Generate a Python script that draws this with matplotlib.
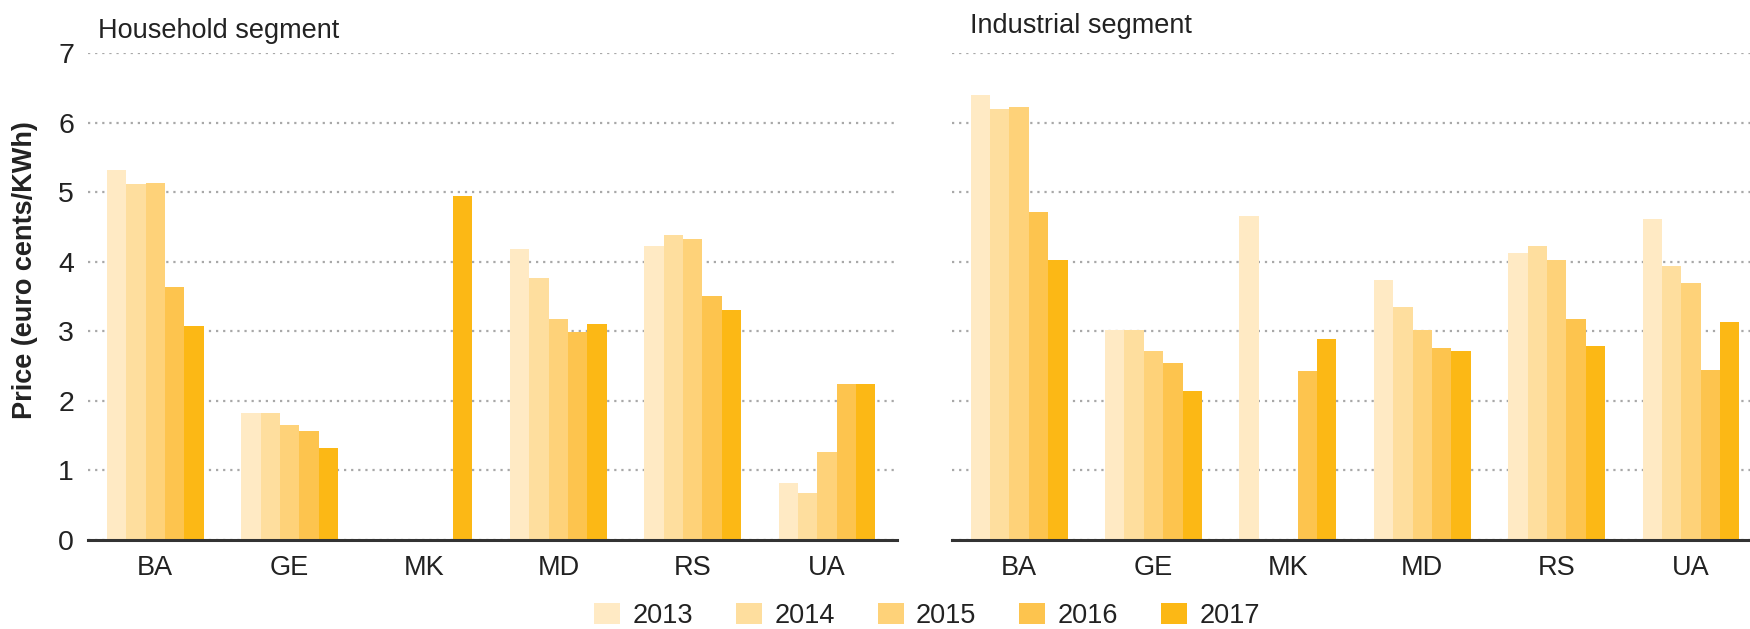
import numpy as np
import matplotlib.pyplot as plt
from matplotlib.patches import Patch

plt.rcParams['font.family'] = ['Liberation Sans Narrow', 'Liberation Sans', 'DejaVu Sans']

countries = ['BA', 'GE', 'MK', 'MD', 'RS', 'UA']
years = ['2013', '2014', '2015', '2016', '2017']
colors = ['#FFEAC4', '#FEDE9E', '#FED279', '#FDC44E', '#FCB815']

nan = np.nan
# prices in euro cents/KWh, one row per year, one column per country
household = np.array([
    [5.32, 1.83, nan, 4.18, 4.23, 0.82],   # 2013
    [5.11, 1.83, nan, 3.76, 4.39, 0.67],   # 2014
    [5.13, 1.65, nan, 3.17, 4.33, 1.26],   # 2015
    [3.64, 1.57, nan, 2.99, 3.51, 2.24],   # 2016
    [3.07, 1.32, 4.95, 3.10, 3.30, 2.24],  # 2017
])
industrial = np.array([
    [6.40, 3.02, 4.65, 3.74, 4.13, 4.62],  # 2013
    [6.19, 3.02, nan, 3.35, 4.23, 3.94],   # 2014
    [6.22, 2.71, nan, 3.02, 4.02, 3.69],   # 2015
    [4.72, 2.55, 2.43, 2.76, 3.18, 2.45],  # 2016
    [4.02, 2.14, 2.89, 2.71, 2.79, 3.14],  # 2017
])

W, H = 1750, 629
fs = 19.5
fig = plt.figure(figsize=(W / 100, H / 100), dpi=100)

def px_axes(x0, y_top, x1, y_bottom):
    return fig.add_axes([x0 / W, 1 - y_bottom / H, (x1 - x0) / W, (y_bottom - y_top) / H])

ax_h = px_axes(88, 53, 897, 540)
ax_i = px_axes(952, 53, 1750, 540)

bw = 0.144
x = np.arange(len(countries))

for ax, data, xmax in [(ax_h, household, 5.52), (ax_i, industrial, 5.44)]:
    for k, (vals, c) in enumerate(zip(data, colors)):
        ax.bar(x + (k - 2) * bw, vals, width=bw, color=c, edgecolor='none', zorder=3)
    ax.set_xlim(-0.5, xmax)
    ax.set_ylim(0, 7)
    ax.set_yticks(range(0, 8))
    ax.yaxis.grid(True, linestyle=(0, (1, 2.2)), color='#a8a8a8', linewidth=1.6, zorder=1)
    ax.set_xticks(x)
    ax.set_xticklabels(countries, fontsize=fs, color='#222222')
    ax.tick_params(axis='x', length=0, pad=11)
    ax.tick_params(axis='y', length=0, pad=10, labelsize=fs + 1, labelcolor='#222222')
    for s in ['top', 'right', 'left']:
        ax.spines[s].set_visible(False)
    ax.spines['bottom'].set_color('#333333')
    ax.spines['bottom'].set_linewidth(2.2)
    ax.spines['bottom'].set_zorder(4)

ax_i.set_yticklabels([])

fig.text(98 / W, 1 - 38 / H, 'Household segment', fontsize=fs, color='#222222',
         ha='left', va='baseline')
fig.text(970 / W, 1 - 33 / H, 'Industrial segment', fontsize=fs, color='#222222',
         ha='left', va='baseline')
fig.text(25 / W, 1 - 270 / H, 'Price (euro cents/KWh)', fontsize=19.5, fontweight='bold',
         family=['Liberation Sans', 'DejaVu Sans'], color='#222222',
         rotation=90, ha='center', va='center')

handles = [Patch(facecolor=c, edgecolor='none', label=y) for y, c in zip(years, colors)]
fig.legend(handles=handles, loc='center', bbox_to_anchor=(927 / W, 1 - 616 / H), ncol=5,
           frameon=False, fontsize=fs, handlelength=0.95, handleheight=0.8,
           handletextpad=0.45, columnspacing=1.6, borderpad=0, labelcolor='#222222')

fig.savefig('out.png', dpi=100)
